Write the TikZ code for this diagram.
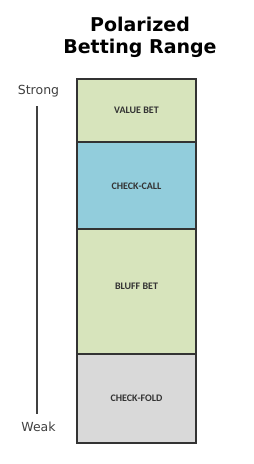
\documentclass[tikz,border=0pt]{standalone}
\usepackage{fontspec}
\setmainfont{DejaVu Sans}
\newfontfamily\lblfont{Carlito}
\definecolor{vgreen}{HTML}{D7E4BC}
\definecolor{vblue}{HTML}{92CDDC}
\definecolor{vgray}{HTML}{D9D9D9}
\definecolor{edge}{HTML}{333333}
\definecolor{txt}{HTML}{404040}
\begin{document}
\begin{tikzpicture}[x=1pt,y=-1pt,
  band/.style={draw=edge, line width=1.3pt, minimum width=119pt, inner sep=0pt, outer sep=0pt},
  bandlbl/.style={font=\lblfont\bfseries\fontsize{10}{12}\selectfont, text=edge, inner sep=0pt},
  side/.style={font=\fontsize{12.5}{14}\selectfont, text=txt, inner sep=0pt},
  ttl/.style={font=\bfseries\fontsize{19}{22}\selectfont, align=center, inner sep=0pt, text=black}]
\useasboundingbox[fill=white] (0,0) rectangle (254,464);
\node[ttl] (title) at (140,37) {Polarized\\Betting Range};
\node[band, fill=vgreen, minimum height=63pt] (vb) at (136.5,110.5) {};
\node[band, fill=vblue, minimum height=87pt] (cc) at (136.5,185.5) {};
\node[band, fill=vgreen, minimum height=125pt] (bb) at (136.5,291.5) {};
\node[band, fill=vgray, minimum height=89pt] (cf) at (136.5,398.5) {};
\node[bandlbl] (vbl) at (136.5,110.5) {VALUE BET};
\node[bandlbl] (ccl) at (136.5,186.5) {CHECK-CALL};
\node[bandlbl] (bbl) at (136.5,286) {BLUFF BET};
\node[bandlbl] (cfl) at (136.5,398) {CHECK-FOLD};
\node[side] (strong) at (38.5,91) {Strong};
\node[side] (weak) at (38.5,427) {Weak};
\coordinate (ltop) at (37,106);
\coordinate (lbot) at (37,414);
\draw[txt, line width=1.4pt] (ltop) -- (lbot);
\end{tikzpicture}
\end{document}
